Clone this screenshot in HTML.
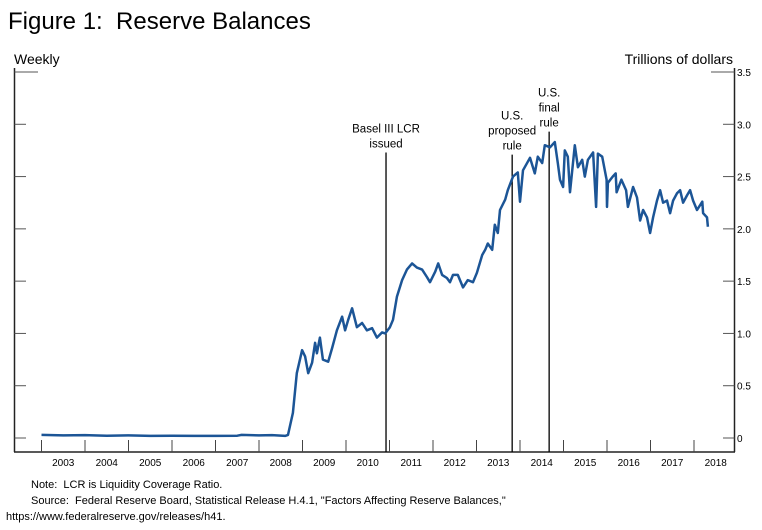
<!DOCTYPE html>
<html><head><meta charset="utf-8"><style>
body{margin:0;background:#fff;width:762px;height:530px;overflow:hidden;font-family:"Liberation Sans",Arial,sans-serif}
svg{display:block}
</style></head><body>
<svg id="chart" width="762" height="530" font-family="Liberation Sans, Arial, sans-serif">
<text x="8" y="29" font-size="24">Figure 1:&#160;&#160;Reserve Balances</text>
<text x="14" y="64" font-size="14">Weekly</text>
<text x="733" y="64" font-size="14" text-anchor="end">Trillions of dollars</text>
<g id="axes"></g>
<g id="events"></g>
<path id="line" fill="none" stroke="#1c5596" stroke-width="2.5" stroke-linejoin="round"/>
<text x="31" y="488" font-size="11">Note:&#160;&#160;LCR is Liquidity Coverage Ratio.</text>
<text x="31" y="504" font-size="11">Source:&#160;&#160;Federal Reserve Board, Statistical Release H.4.1, "Factors Affecting Reserve Balances,"</text>
<text x="6" y="520" font-size="11">https://www.federalreserve.gov/releases/h41.</text>
</svg>
<script>
const years=[2003,2004,2005,2006,2007,2008,2009,2010,2011,2012,2013,2014,2015,2016,2017,2018];
const yTicks=[0,0.5,1.0,1.5,2.0,2.5,3.0,3.5];
const dates=[2003.0,2003.5,2004.0,2004.5,2005.0,2005.5,2006.0,2006.5,2007.0,2007.5,2007.6,2008.0,2008.3,2008.6,
2008.667,2008.78,2008.87,2008.99,2009.06,2009.13,2009.22,2009.29,2009.33,2009.40,2009.47,2009.59,2009.68,2009.79,2009.91,2009.98,
2010.05,2010.14,2010.25,2010.37,2010.48,2010.60,2010.71,2010.83,2010.90,2011.01,2011.08,2011.17,2011.29,2011.40,2011.52,2011.63,2011.75,2011.86,2011.93,
2012.05,2012.12,2012.21,2012.32,2012.39,2012.46,2012.57,2012.69,2012.80,2012.92,2013.01,2013.13,2013.20,2013.26,2013.36,2013.42,2013.49,2013.54,2013.66,2013.72,
2013.84,2013.95,2014.0,2014.07,2014.23,2014.34,2014.41,2014.51,2014.57,2014.69,2014.80,2014.87,2014.92,2014.99,2015.03,2015.10,2015.15,2015.26,2015.33,2015.43,2015.49,2015.56,2015.68,2015.75,2015.79,2015.89,
2015.99,2016.0,2016.02,2016.13,2016.2,2016.22,2016.33,2016.44,2016.48,2016.6,2016.69,2016.76,2016.83,2016.92,2016.99,2017.06,2017.15,2017.22,2017.29,2017.38,2017.45,2017.52,2017.61,2017.68,2017.75,2017.84,2017.91,2017.98,2018.07,2018.19,2018.21,2018.30,2018.32];
const values=[0.03,0.025,0.028,0.022,0.025,0.02,0.022,0.02,0.02,0.022,0.03,0.025,0.028,0.02,
0.03,0.24,0.62,0.84,0.78,0.62,0.72,0.91,0.81,0.96,0.75,0.73,0.86,1.03,1.16,1.03,
1.13,1.24,1.06,1.10,1.03,1.05,0.96,1.01,1.0,1.06,1.13,1.35,1.51,1.61,1.67,1.63,1.61,1.54,1.49,
1.59,1.67,1.56,1.53,1.49,1.56,1.56,1.44,1.51,1.49,1.58,1.75,1.80,1.86,1.80,2.04,1.96,2.18,2.28,2.37,
2.5,2.54,2.26,2.56,2.68,2.53,2.69,2.63,2.8,2.78,2.83,2.63,2.47,2.4,2.75,2.69,2.35,2.8,2.59,2.66,2.5,2.66,2.73,2.21,2.72,2.69,
2.47,2.21,2.44,2.5,2.53,2.35,2.47,2.37,2.21,2.4,2.3,2.08,2.18,2.11,1.96,2.11,2.27,2.37,2.25,2.27,2.15,2.27,2.34,2.37,2.25,2.32,2.37,2.27,2.18,2.26,2.15,2.11,2.02];
const eventLabels=[["Basel III LCR","issued"],["U.S.","proposed","rule"],["U.S.","final","rule"]];
const eventDates=[2010.92,2013.82,2014.67];
const eventTops=[2.73,2.71,2.93];

const X0=41.5,YW=43.5,Y0=438,YU=104.57;
const xs=d=>X0+(d-2003)*YW;
const ys=v=>Y0-v*YU;
const NS='http://www.w3.org/2000/svg';
function mk(tag,attrs,parent){const e=document.createElementNS(NS,tag);for(const k in attrs)e.setAttribute(k,attrs[k]);parent.appendChild(e);return e;}
const ax=document.getElementById('axes');
let e;
e=mk('line',{x1:14.5,y1:68,x2:14.5,y2:452,stroke:'#222','stroke-width':1.5},ax);


e=mk('line',{x1:734.5,y1:68,x2:734.5,y2:452,stroke:'#222','stroke-width':1.5},ax);


e=mk('line',{x1:14,y1:452,x2:735,y2:452,stroke:'#222','stroke-width':1.5},ax);


yTicks.forEach((t,i)=>{
  const y=ys(t), top=i===yTicks.length-1;
  e=mk('line',{x1:14.5,y1:y,x2:top?38:26,y2:y,stroke:'#555','stroke-width':1},ax);
  
  
  e=mk('line',{x1:top?711:723,y1:y,x2:734.5,y2:y,stroke:'#555','stroke-width':1},ax);
  
  
  e=mk('text',{x:737,y:y+4,'font-size':10},ax);e.textContent=t===0?'0':t.toFixed(1);
  
  
});
years.forEach(yr=>{
  const x=xs(yr);
  e=mk('line',{x1:x,y1:440,x2:x,y2:452,stroke:'#444','stroke-width':1},ax);
  
  
  e=mk('text',{x:xs(yr+0.5),y:466,'font-size':10,'text-anchor':'middle'},ax);e.textContent=yr;
  
  
});
const ev=document.getElementById('events');
eventDates.forEach((d,i)=>{
  const x=xs(d);
  e=mk('line',{x1:x,y1:ys(eventTops[i]),x2:x,y2:452,stroke:'#000','stroke-width':1.3},ev);
  
  
  const lines=eventLabels[i];
  lines.forEach((l,j)=>{
    e=mk('text',{x:x,y:ys(eventTops[i])-5-(lines.length-1-j)*15,'font-size':11.5,'text-anchor':'middle'},ev);
    e.textContent=l;
    
    
  });
});
document.getElementById('line').setAttribute('d',dates.map((d,i)=>(i?'L':'M')+xs(d).toFixed(1)+' '+ys(values[i]).toFixed(1)).join(' '));
</script>
</body></html>
